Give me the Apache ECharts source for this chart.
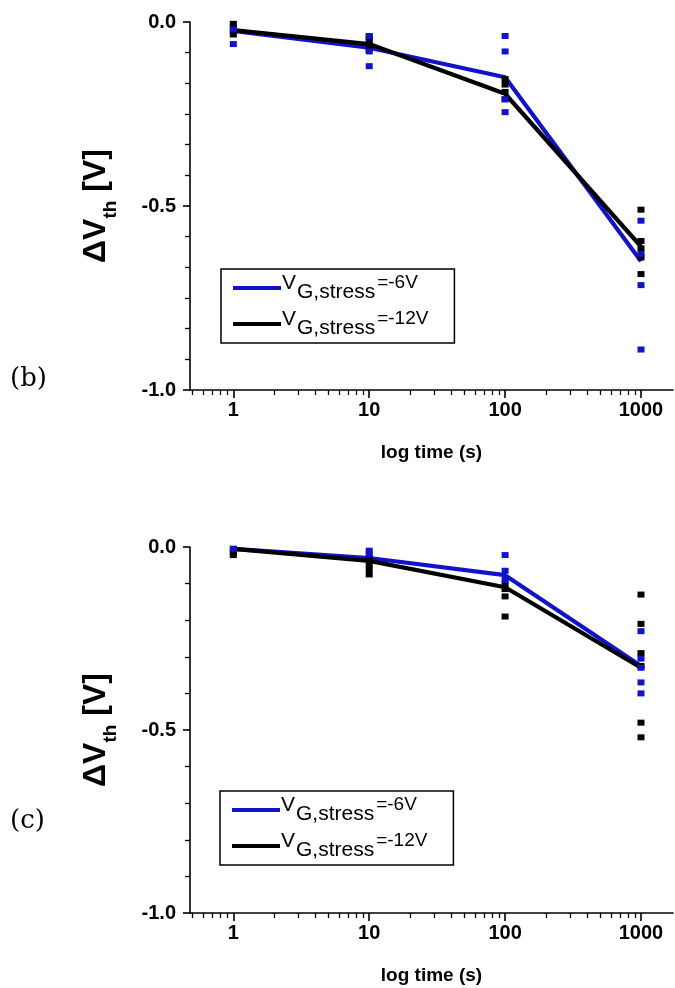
<!DOCTYPE html>
<html>
<head>
<meta charset="utf-8">
<script src="https://cdn.jsdelivr.net/npm/echarts@6/dist/echarts.min.js"></script>
<style>
html,body{margin:0;padding:0;background:#fff;}
#chart{width:675px;height:988px;}
</style>
</head>
<body>
<div id="chart"></div>
<script>
// ---------- data ----------
var times = [1, 10, 100, 1000];
var xTickLabels = [1, 10, 100, 1000];
var yTickLabels = [0, -0.5, -1.0];
var seriesNames = ['VG,stress=-6V', 'VG,stress=-12V'];
var panelLabels = ['(b)', '(c)'];

// panel (b): mean lines
var b_mean6  = [-0.024, -0.070, -0.150, -0.650];
var b_mean12 = [-0.022, -0.060, -0.195, -0.610];
// panel (b): individual devices [time, dVth]
var b_pts6 = [[1,-0.06],[1,-0.02],[10,-0.038],[10,-0.08],[10,-0.12],[100,-0.038],[100,-0.08],[100,-0.21],[100,-0.245],[1000,-0.54],[1000,-0.63],[1000,-0.715],[1000,-0.89]];
var b_pts12 = [[1,-0.005],[1,-0.015],[1,-0.025],[1,-0.034],[10,-0.04],[10,-0.05],[10,-0.06],[10,-0.075],[100,-0.155],[100,-0.17],[100,-0.19],[100,-0.21],[1000,-0.51],[1000,-0.595],[1000,-0.615],[1000,-0.64],[1000,-0.685]];

// panel (c): mean lines
var c_mean6  = [-0.005, -0.030, -0.077, -0.325];
var c_mean12 = [-0.005, -0.038, -0.110, -0.330];
// panel (c): individual devices
var c_pts6 = [[1,-0.005],[10,-0.01],[10,-0.02],[100,-0.022],[100,-0.065],[100,-0.09],[1000,-0.23],[1000,-0.305],[1000,-0.33],[1000,-0.37],[1000,-0.40]];
var c_pts12 = [[1,-0.005],[1,-0.015],[1,-0.022],[10,-0.03],[10,-0.045],[10,-0.06],[10,-0.075],[100,-0.10],[100,-0.115],[100,-0.135],[100,-0.19],[1000,-0.13],[1000,-0.21],[1000,-0.29],[1000,-0.325],[1000,-0.48],[1000,-0.52]];

// ---------- styling ----------
var BLUE = '#1212c8';
var BLACK = '#000000';
var FONT = '"Liberation Sans", Arial, sans-serif';
var xMin = 0.48, xMax = 1720;

// minor log ticks (2..9 per decade)
var minorVals = [];
[0.1, 1, 10, 100, 1000].forEach(function (d) {
  for (var k = 1; k <= 9; k++) {
    var v = +(d * k).toPrecision(6);
    if (v >= xMin && v <= xMax && xTickLabels.indexOf(v) < 0) minorVals.push(v);
  }
});

function pairs(ys) { return times.map(function (t, i) { return [t, ys[i]]; }); }

var grids = [
  { left: 190, right: 2, top: 22, height: 368 },
  { left: 190, right: 2, top: 547, height: 366 }
];

var xAxes = [], yAxes = [];
[0, 1].forEach(function (g) {
  xAxes.push({
    type: 'log', logBase: 10, gridIndex: g, min: xMin, max: xMax,
    name: 'log time (s)', nameLocation: 'middle', nameGap: 53,
    nameTextStyle: { fontFamily: FONT, fontWeight: 'bold', fontSize: 19, color: '#000' },
    axisLine: { show: true, onZero: false, lineStyle: { color: '#000', width: 1.6 } },
    axisTick: { show: true, inside: false, length: 8, customValues: xTickLabels, lineStyle: { color: '#000', width: 1.6 } },
    axisLabel: { show: true, customValues: xTickLabels, margin: 10, fontFamily: FONT, fontWeight: 'bold', fontSize: 20, color: '#000',
      formatter: function (v) { return String(Math.round(v)); } },
    splitLine: { show: false }, minorTick: { show: false }
  });
  xAxes.push({
    type: 'log', logBase: 10, gridIndex: g, min: xMin, max: xMax, position: 'bottom',
    axisLine: { show: false, onZero: false },
    axisTick: { show: true, inside: false, length: 5, customValues: minorVals, lineStyle: { color: '#000', width: 1.3 } },
    axisLabel: { show: false }, splitLine: { show: false }
  });
  yAxes.push({
    type: 'value', gridIndex: g, min: -1, max: 0, interval: 0.5,
    name: '{a|ΔV}{s|th}{a| [V]}', nameLocation: 'middle', nameGap: 70, nameRotate: 90,
    nameTextStyle: { rich: {
      a: { fontFamily: FONT, fontWeight: 'bold', fontSize: 32, color: '#000', verticalAlign: 'top', lineHeight: 32 },
      s: { fontFamily: FONT, fontWeight: 'bold', fontSize: 19, color: '#000', verticalAlign: 'bottom', lineHeight: 40 }
    } },
    axisLine: { show: true, onZero: false, lineStyle: { color: '#000', width: 1.6 } },
    axisTick: { show: true, inside: false, length: 7, lineStyle: { color: '#000', width: 1.6 } },
    minorTick: { show: true, splitNumber: g === 0 ? 6 : 5, length: 5, lineStyle: { color: '#000', width: 1.3 } },
    axisLabel: { margin: 14, fontFamily: FONT, fontWeight: 'bold', fontSize: 20, color: '#000',
      formatter: function (v) { return v.toFixed(1); } },
    splitLine: { show: false }
  });
});

var legendRich = {
  v: { fontFamily: FONT, fontSize: 21, color: '#000', verticalAlign: 'top', lineHeight: 21 },
  g: { fontFamily: FONT, fontSize: 21, color: '#000', verticalAlign: 'bottom', lineHeight: 30, padding: [0, 0, 0, 1] },
  e: { fontFamily: FONT, fontSize: 19, color: '#000', verticalAlign: 'top', lineHeight: 19, padding: [0, 0, 0, 2] }
};
function legendFmt(name) {
  var val = name.split('=')[1];
  return '{v|V}{g|G,stress}{e|=' + val + '}';
}

var series = [];
var means = [[b_mean6, b_mean12], [c_mean6, c_mean12]];
var pts = [[b_pts6, b_pts12], [c_pts6, c_pts12]];
[0, 1].forEach(function (g) {
  [0, 1].forEach(function (s) {
    series.push({
      name: seriesNames[s], type: 'line', xAxisIndex: g * 2, yAxisIndex: g,
      data: pairs(means[g][s]), showSymbol: false, symbol: 'none',
      lineStyle: { color: s === 0 ? BLUE : BLACK, width: 4.2 },
      itemStyle: { color: s === 0 ? BLUE : BLACK }, z: s === 0 ? 3 : 4, animation: false
    });
  });
  [1, 0].forEach(function (s) {
    series.push({
      name: 'pts' + s, type: 'scatter', xAxisIndex: g * 2, yAxisIndex: g,
      data: pts[g][s], symbol: 'rect', symbolSize: [7, 6],
      itemStyle: { color: s === 0 ? BLUE : BLACK, opacity: 1 }, z: 5, animation: false, silent: true
    });
  });
});

var legends = [
  { left: 221, top: 269 },
  { left: 220, top: 791 }
].map(function (p, i) {
  return {
    left: p.left, top: p.top, orient: 'vertical', data: seriesNames,
    icon: 'rect', itemWidth: 48, itemHeight: 4, itemGap: 6,
    borderColor: '#000', borderWidth: 1.5, borderRadius: 0, padding: [4, 26, 4, 12],
    formatter: legendFmt, textStyle: { rich: legendRich, padding: [0, 0, 0, -4] },
    selectedMode: false, inactiveColor: '#000'
  };
});

var chart = echarts.init(document.getElementById('chart'), null, { renderer: 'canvas' });
chart.setOption({
  backgroundColor: '#fff',
  animation: false,
  grid: grids,
  xAxis: xAxes,
  yAxis: yAxes,
  legend: legends,
  series: series,
  graphic: [
    { type: 'text', left: 10, top: 366, style: { text: panelLabels[0], fontFamily: '"DejaVu Serif", serif', fontSize: 26, fill: '#000' } },
    { type: 'text', left: 10, top: 808, style: { text: panelLabels[1], fontFamily: '"DejaVu Serif", serif', fontSize: 26, fill: '#000' } }
  ]
});
</script>
</body>
</html>
